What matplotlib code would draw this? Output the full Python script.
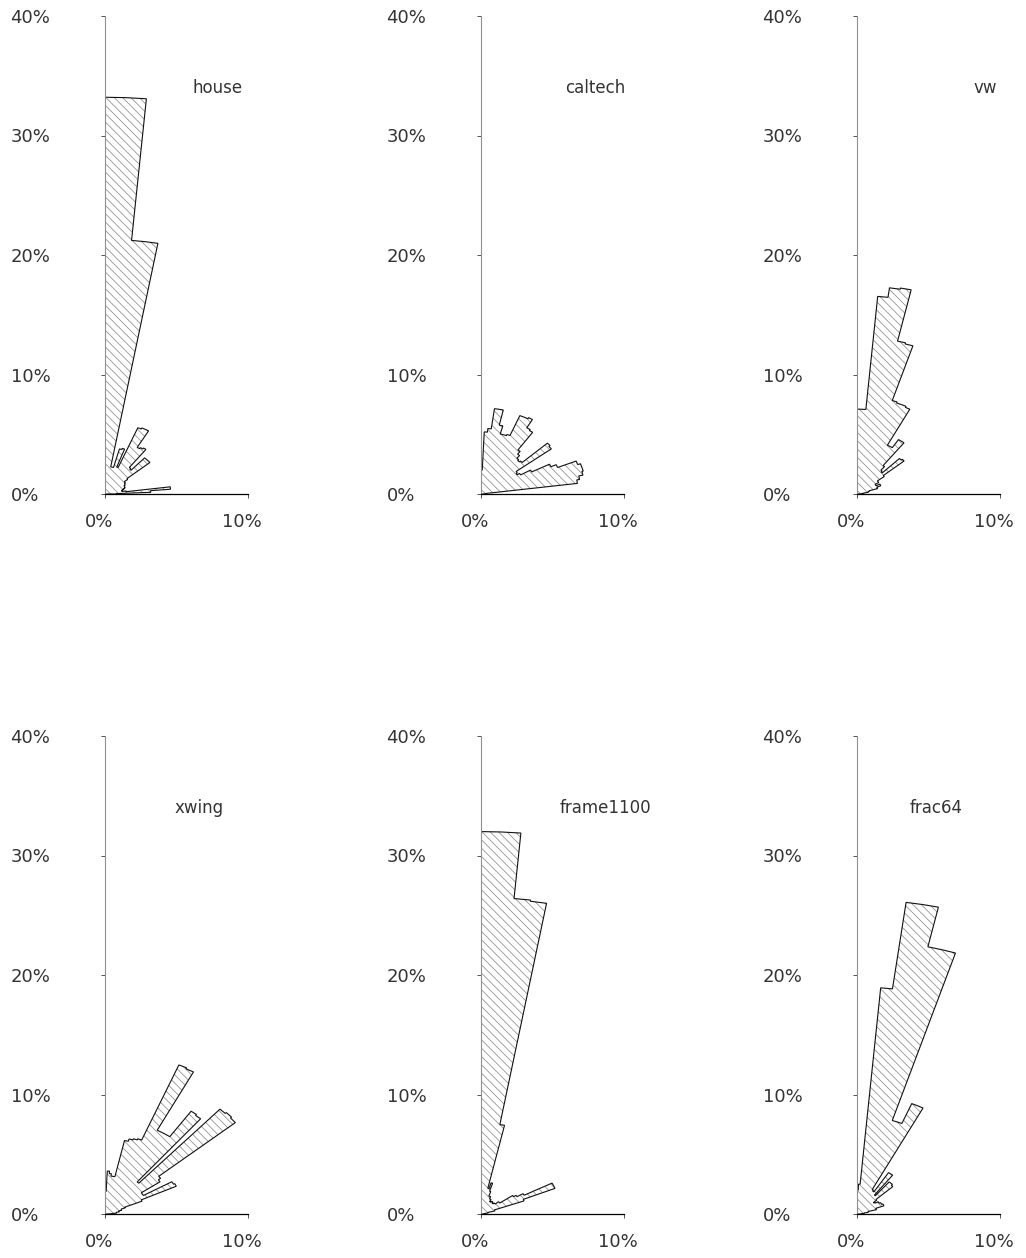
import numpy as np
import matplotlib
matplotlib.use('Agg')
import matplotlib.pyplot as plt
from matplotlib.patches import Polygon
from matplotlib.transforms import ScaledTranslation


# sector edges in degrees, 2.5 degree sectors from 0 to 90
sector_edges = np.arange(0, 92.5, 2.5)

# percentage of samples per sector, sector 0-2.5 first
house = [0.8, 3.2, 4.6, 1.5, 1.2, 1.2, 1.3, 1.4, 1.5, 1.5,
         1.5, 1.6, 1.6, 1.7, 1.7, 2.0, 4.1, 4.1, 4.1, 2.7,
         2.8, 4.7, 4.6, 4.5, 6.1, 6.1, 6.0, 2.4, 4.0, 3.9,
         2.3, 2.3, 21.3, 21.3, 33.2, 33.2]
caltech = [0.3, 0.3, 0.3, 6.8, 7.0, 7.3, 7.4, 7.4, 7.2, 5.8,
           5.4, 4.0, 3.2, 3.0, 3.1, 6.2, 6.3, 3.9, 3.8, 3.9,
           4.2, 4.5, 6.3, 6.4, 7.2, 7.1, 7.1, 5.3, 5.2, 5.2,
           5.9, 7.2, 7.2, 5.5, 5.2, 2.0]
vw = [0.3, 0.3, 0.4, 0.5, 0.8, 0.8, 0.9, 1.5, 1.5, 1.8,
      1.8, 1.5, 1.5, 1.8, 1.8, 2.4, 4.3, 4.2, 2.5, 2.6,
      3.0, 5.4, 5.4, 4.6, 4.6, 8.0, 8.1, 8.1, 8.2, 13.0,
      13.1, 17.5, 17.4, 16.6, 7.1, 7.1]
xwing = [0.3, 0.5, 0.8, 0.8, 1.0, 1.0, 1.2, 1.2, 1.5, 2.8,
         5.5, 5.4, 3.1, 3.1, 4.7, 4.9, 11.9, 12.0, 11.9, 3.5,
         10.4, 10.5, 7.9, 7.9, 7.9, 13.4, 13.5, 6.7, 6.6, 6.5,
         6.3, 3.2, 3.2, 3.4, 3.6, 1.9]
frame1100 = [0.2, 0.2, 0.2, 0.3, 0.5, 0.5, 1.0, 1.0, 3.2, 5.6,
             5.6, 3.4, 2.9, 2.7, 1.6, 1.6, 1.3, 1.3, 1.2, 1.2,
             1.3, 1.3, 1.2, 1.2, 1.4, 1.4, 1.6, 1.6, 2.0, 2.7,
             2.2, 7.6, 26.4, 26.5, 32.0, 32.0]
frac64 = [0.3, 0.3, 0.5, 0.5, 0.8, 0.8, 1.4, 1.4, 2.0, 2.0,
          1.9, 1.9, 1.8, 1.8, 1.6, 1.5, 1.8, 3.4, 3.5, 3.5,
          2.0, 4.1, 4.1, 2.2, 2.3, 10.0, 10.0, 8.2, 8.2, 22.9,
          22.9, 26.3, 26.3, 19.0, 2.5, 2.0]

names = ['house', 'caltech', 'vw', 'xwing', 'frame1100', 'frac64']
series = [house, caltech, vw, xwing, frame1100, frac64]

x_ticks = [0, 10]
y_ticks = [0, 10, 20, 30, 40]

# where each name sits inside its panel (data units)
name_pos = {'house': 7.9, 'caltech': 8.0, 'vw': 9.0,
            'xwing': 6.6, 'frame1100': 8.7, 'frac64': 5.5}

plt.rcParams['font.family'] = 'DejaVu Sans'
plt.rcParams['hatch.linewidth'] = 0.55


def rose_outline(radii, edges):
    a = np.deg2rad(edges)
    pts = [(0.0, 0.0)]
    for r, a0, a1 in zip(radii, a[:-1], a[1:]):
        pts.append((r * np.cos(a0), r * np.sin(a0)))
        pts.append((r * np.cos(a1), r * np.sin(a1)))
    pts.append((0.0, 0.0))
    return np.array(pts)


def draw_rose(ax, radii, name):
    pts = rose_outline(radii, sector_edges)
    # hatching in grey, outline in black on top
    ax.add_patch(Polygon(pts, closed=True, facecolor='none', edgecolor='#8c8c8c',
                         linewidth=0, hatch='\\\\\\\\'))
    ax.add_patch(Polygon(pts, closed=True, fill=False, edgecolor='#111111',
                         linewidth=0.8, joinstyle='miter'))

    ax.set_xlim(0, 10)
    ax.set_ylim(0, 40)
    for s in ['top', 'right']:
        ax.spines[s].set_visible(False)
    ax.spines['left'].set_color('#909090')
    ax.spines['left'].set_linewidth(0.8)
    ax.spines['left'].set_linestyle((0, (1, 1)))
    ax.spines['bottom'].set_color('black')
    ax.spines['bottom'].set_linewidth(0.9)

    ax.set_xticks(x_ticks)
    ax.set_xticklabels([f'{t}%' for t in x_ticks])
    ax.set_yticks(y_ticks)
    ax.set_yticklabels([f'{t}%' for t in y_ticks])
    ax.tick_params(axis='both', direction='out', length=3, width=0.7,
                   color='#505050', labelsize=13, labelcolor='#333333')
    ax.tick_params(axis='y', pad=65)
    ax.tick_params(axis='x', pad=11)
    for lab in ax.get_yticklabels():
        lab.set_horizontalalignment('left')
    shift = ScaledTranslation(-6 / 100, 0, ax.figure.dpi_scale_trans)
    for lab in ax.get_xticklabels():
        lab.set_transform(lab.get_transform() + shift)

    ax.text(name_pos[name], 34, name, ha='center', va='center',
            fontsize=12, color='#333333')


fig = plt.figure(figsize=(10.26, 12.58), dpi=100)

col_left = [105, 481, 857]
row_bottom = [494, 1214]
for i, (name, radii) in enumerate(zip(names, series)):
    x0 = col_left[i % 3] / 1026
    y0 = (1258 - row_bottom[i // 3]) / 1258
    ax = fig.add_axes([x0, y0, 143 / 1026, 478 / 1258])
    draw_rose(ax, radii, name)

fig.savefig('out.png', dpi=100, facecolor='white')
